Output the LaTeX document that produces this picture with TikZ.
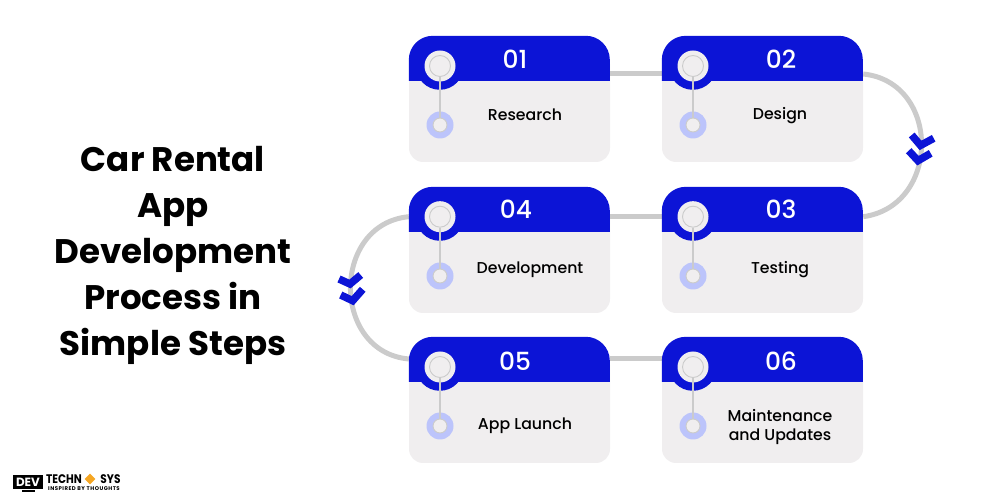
\documentclass[tikz,border=0pt]{standalone}
\usepackage{fontspec}
\setmainfont{Poppins}
\newfontfamily\midfont{Poppins Medium}
\usetikzlibrary{arrows.meta}
\usetikzlibrary{shapes.geometric}
\definecolor{headblue}{HTML}{0C14D6}
\definecolor{bodygray}{HTML}{F0EEEF}
\definecolor{linegray}{HTML}{CBCBCB}
\definecolor{dotblue}{HTML}{BCC4FB}
\definecolor{logoorange}{HTML}{F5A623}
\tikzset{
  card/.style={fill=bodygray,rounded corners=14bp,minimum width=201bp,minimum height=112bp,inner sep=0pt},
  cardtop/.pic={
    \fill [headblue] (0bp,-31bp) [rounded corners=24bp] -- (0bp,14bp) -- (201bp,14bp) [sharp corners] -- (201bp,-31bp) -- cycle;
    \fill [headblue] (31bp,-16bp) circle (24bp);
  },
  number/.style={text=white,font=\fontsize{25}{25}\midfont},
  step label/.style={align=center,font=\fontsize{15.8}{19.5}\midfont},
  knob/.style={circle,fill=bodygray,minimum size=31bp,inner sep=0pt},
  ring/.style={circle,draw=linegray,line width=0.9bp,minimum size=21bp,inner sep=0pt},
  dot/.style={circle,fill=dotblue,minimum size=27bp,inner sep=0pt},
  hole/.style={circle,fill=bodygray,draw=linegray,line width=0.9bp,minimum size=14bp,inner sep=0pt},
  stem/.style={draw=linegray,line width=1.3bp},
  link/.style={draw=linegray,line width=5bp},
  tick/.style={draw=headblue,line width=7.5bp,line join=miter},
  logo text/.style={inner sep=0pt,transform shape,xscale=0.85,font=\fontsize{12.5}{12.5}\selectfont\bfseries},
}
\begin{document}
\begin{tikzpicture}
\useasboundingbox (0bp,0bp) rectangle (1000bp,500bp);
%%
\node (title) at (173bp,244.5bp) [align=center,font=\fontsize{34.2}{46}\selectfont\bfseries] {Car Rental\\App\\Development\\Process in\\Simple Steps};
%
  \node (card_1) at (509.5bp,394bp) [card] {};
  \node (card_2) at (762.5bp,394bp) [card] {};
  \node (card_3) at (762.5bp,243bp) [card] {};
  \node (card_4) at (509.5bp,243bp) [card] {};
  \node (card_5) at (509.5bp,93bp) [card] {};
  \node (card_6) at (762.5bp,93bp) [card] {};
%
  \draw [link] (card_1.east |- 0,426bp) -- (card_2.west |- 0,426bp);
  \draw [link] (card_4.east |- 0,283.3bp) -- (card_3.west |- 0,283.3bp);
  \draw [link] (card_5.east |- 0,141bp) -- (card_6.west |- 0,141bp);
  \draw [link] (card_2.east |- 0,426bp) ..controls (941bp,418bp) and (941bp,294bp)  .. (card_3.east |- 0,283.3bp);
  \draw [link] (card_4.west |- 0,283.3bp) ..controls (331bp,276bp) and (331bp,148bp)  .. (card_5.west |- 0,141bp);
%
  \pic at (card_1.north west) {cardtop};
  \pic at (card_2.north west) {cardtop};
  \pic at (card_3.north west) {cardtop};
  \pic at (card_4.north west) {cardtop};
  \pic at (card_5.north west) {cardtop};
  \pic at (card_6.north west) {cardtop};
%
  \node (num_1) at (515bp,441bp) [number] {01};
  \node (num_2) at (781bp,441bp) [number] {02};
  \node (num_3) at (781bp,291bp) [number] {03};
  \node (num_4) at (516bp,291bp) [number] {04};
  \node (num_5) at (515bp,139bp) [number] {05};
  \node (num_6) at (781bp,139bp) [number] {06};
%
  \node (label_1) at (525bp,385bp) [step label] {Research};
  \node (label_2) at (780bp,384bp) [step label] {Design};
  \node (label_3) at (780bp,230bp) [step label] {Testing};
  \node (label_4) at (530bp,230bp) [step label] {Development};
  \node (label_5) at (525bp,74bp) [step label] {App Launch};
  \node (label_6) at (780bp,73bp) [step label] {Maintenance\\and Updates};
%
  \node (knob_1) at (440bp,434bp) [knob] {};
  \node (knob_2) at (693bp,434bp) [knob] {};
  \node (knob_3) at (693bp,283.3bp) [knob] {};
  \node (knob_4) at (440bp,283.3bp) [knob] {};
  \node (knob_5) at (440bp,133bp) [knob] {};
  \node (knob_6) at (693bp,133bp) [knob] {};
  \node (ring_1) at (knob_1) [ring] {};
  \node (ring_2) at (knob_2) [ring] {};
  \node (ring_3) at (knob_3) [ring] {};
  \node (ring_4) at (knob_4) [ring] {};
  \node (ring_5) at (knob_5) [ring] {};
  \node (ring_6) at (knob_6) [ring] {};
  \node (dot_1) at (440bp,375bp) [dot] {};
  \node (dot_2) at (693bp,375bp) [dot] {};
  \node (dot_3) at (693bp,224bp) [dot] {};
  \node (dot_4) at (440bp,224bp) [dot] {};
  \node (dot_5) at (440bp,74bp) [dot] {};
  \node (dot_6) at (693bp,74bp) [dot] {};
  \node (hole_1) at (dot_1) [hole] {};
  \node (hole_2) at (dot_2) [hole] {};
  \node (hole_3) at (dot_3) [hole] {};
  \node (hole_4) at (dot_4) [hole] {};
  \node (hole_5) at (dot_5) [hole] {};
  \node (hole_6) at (dot_6) [hole] {};
  \draw [stem] (ring_1) -- (hole_1);
  \draw [stem] (ring_2) -- (hole_2);
  \draw [stem] (ring_3) -- (hole_3);
  \draw [stem] (ring_4) -- (hole_4);
  \draw [stem] (ring_5) -- (hole_5);
  \draw [stem] (ring_6) -- (hole_6);
%
  \draw [tick] (911.7bp,365bp) -- (920.5bp,354.6bp) -- (933.7bp,361.7bp);
  \draw [tick] (908.7bp,349.3bp) -- (918bp,339.3bp) -- (930.7bp,346.7bp);
  \draw [tick] (339bp,221bp) -- (350bp,216bp) -- (360.7bp,225bp);
  \draw [tick] (340.7bp,205bp) -- (352.7bp,199.3bp) -- (362.7bp,210.7bp);
%
  \node (logo_screen) at (28bp,18bp) [fill=black,minimum width=30bp,minimum height=14bp,inner sep=0pt,text=white,font=\fontsize{12}{12}\selectfont\bfseries] {DEV};
  \node (logo_foot) at (28bp,9bp) [fill=black,minimum width=13bp,minimum height=2bp,inner sep=0pt] {};
  \node (logo_name) at (64bp,21bp) [logo text] {TECHN};
  \node (logo_gem) at (90bp,21bp) [diamond,fill=logoorange,minimum size=11bp,inner sep=0pt] {};
  \node (logo_sys) at (110.5bp,21bp) [logo text] {SYS};
  \node (logo_motto) at (84bp,11bp) [inner sep=0pt,font=\fontsize{5.4}{5.4}\selectfont\bfseries\addfontfeatures{LetterSpace=9}] {INSPIRED BY THOUGHTS};
%
\end{tikzpicture}
\end{document}
